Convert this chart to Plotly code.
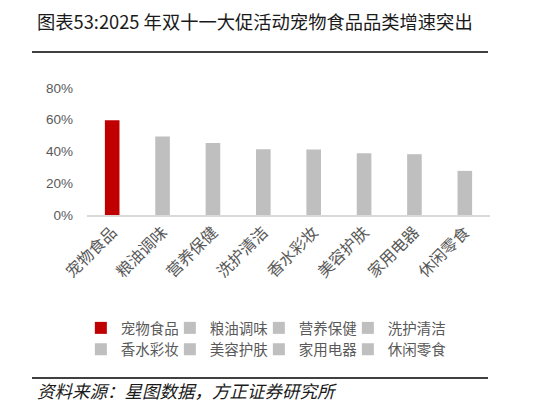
import plotly.graph_objects as go

categories = ["宠物食品", "粮油调味", "营养保健", "洗护清洁", "香水彩妆", "美容护肤", "家用电器", "休闲零食"]
growth = [0.597, 0.494, 0.454, 0.414, 0.412, 0.389, 0.383, 0.278]
colors = ["#C00000"] + ["#BFBFBF"] * 7
y_ticks = [0, 0.2, 0.4, 0.6, 0.8]
y_tick_labels = ["0%", "20%", "40%", "60%", "80%"]

title_text = "图表53:2025 年双十一大促活动宠物食品品类增速突出"
source_text = "资料来源：星图数据，方正证券研究所"

CJK = "Noto Sans CJK SC"
fig = go.Figure()
for i, (c, v, col) in enumerate(zip(categories, growth, colors)):
    fig.add_trace(go.Bar(
        x=[c], y=[v], name=c, marker=dict(color=col, line=dict(width=0)),
        width=0.29, legend="legend" if i < 4 else "legend2",
        hoverinfo="skip",
    ))

legend_common = dict(
    orientation="h", xanchor="left", yanchor="top",
    xref="container", yref="container",
    font=dict(family=CJK, size=14.5, color="#595959"),
    entrywidth=44, entrywidthmode="pixels",
    bgcolor="rgba(0,0,0,0)", itemclick=False, itemdoubleclick=False,
    tracegroupgap=0,
)

fig.update_layout(
    width=550, height=411,
    margin=dict(l=87, r=60, t=88, b=196, autoexpand=False),
    paper_bgcolor="white", plot_bgcolor="white",
    barmode="overlay",
    showlegend=True,
    legend=dict(x=0.147, y=0.241, **legend_common),
    legend2=dict(x=0.147, y=0.189, **legend_common),
    xaxis=dict(
        categoryorder="array", categoryarray=categories,
        tickangle=-45, tickfont=dict(family=CJK, size=16, color="#595959"),
        showline=True, linecolor="#D9D9D9", linewidth=1.5,
        ticks="", showgrid=False, zeroline=False, automargin=False,
    ),
    yaxis=dict(
        range=[0, 0.8], tickvals=y_ticks, ticktext=y_tick_labels,
        tickfont=dict(family="Liberation Sans", size=13.5, color="#595959"),
        showgrid=False, zeroline=False, showline=False, ticks="",
        ticklabelstandoff=13, automargin=False,
    ),
    annotations=[
        dict(text=title_text, xref="paper", yref="paper", x=-0.129, y=1.531,
             xanchor="left", yanchor="middle", showarrow=False,
             font=dict(family=CJK, size=18.3, color="#1a1a1a")),
        dict(text="<i>" + source_text + "</i>", xref="paper", yref="paper", x=-0.129, y=-1.381,
             xanchor="left", yanchor="middle", showarrow=False,
             font=dict(family=CJK, size=17.5, color="#1a1a1a")),
    ],
    shapes=[
        dict(type="line", xref="paper", yref="paper", x0=-0.1365, x1=0.995, y0=1.284, y1=1.284,
             line=dict(color="#000000", width=1.5)),
        dict(type="line", xref="paper", yref="paper", x0=-0.1365, x1=0.995, y0=-1.284, y1=-1.284,
             line=dict(color="#000000", width=1.5)),
    ],
)

post = (
    "document.body.style.margin='0';"
    "document.querySelectorAll('.scrollbox').forEach(function(e){e.removeAttribute('clip-path');});"
)
fig.write_html("out.html", post_script=post, config={"displayModeBar": False, "staticPlot": True})
